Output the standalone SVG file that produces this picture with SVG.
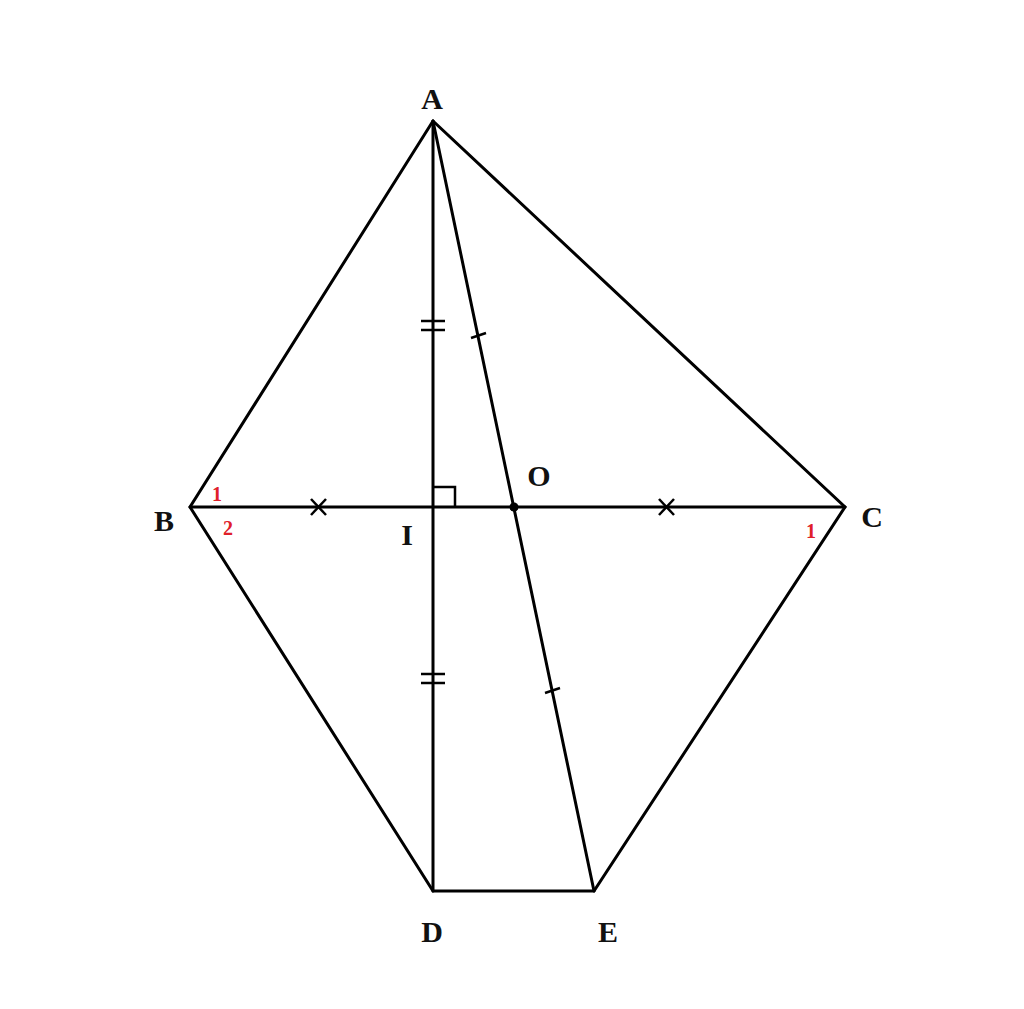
<svg xmlns="http://www.w3.org/2000/svg" width="1024" height="1009" viewBox="0 0 1024 1009">
<style>
.ln{stroke:#000;stroke-width:3;fill:none;stroke-linecap:round;stroke-linejoin:miter}
.tk{stroke:#000;stroke-width:2.5;fill:none}
.lb{font-family:"Liberation Serif",serif;font-weight:bold;font-size:30px;fill:#111;text-anchor:middle}
.rd{font-family:"Liberation Serif",serif;font-weight:bold;font-size:20px;fill:#e0202a;text-anchor:middle}
</style>
<rect width="1024" height="1009" fill="#fff"/>
<g id="connectors">
<polyline class="ln" points="433,121 190,507 433,891 594,891 845,507 433,121"/>
<line class="ln" x1="433" y1="121" x2="433" y2="891"/>
<line class="ln" x1="433" y1="121" x2="594" y2="891"/>
<line class="ln" x1="190" y1="507" x2="845" y2="507"/>
</g>
<g id="marks">
<polyline class="tk" points="433,487 455,487 455,507"/>
<line class="tk" x1="421" y1="321" x2="445" y2="321"/>
<line class="tk" x1="421" y1="330" x2="445" y2="330"/>
<line class="tk" x1="421" y1="674" x2="445" y2="674"/>
<line class="tk" x1="421" y1="683" x2="445" y2="683"/>
<line class="tk" x1="471" y1="338" x2="486" y2="333"/>
<line class="tk" x1="545" y1="693" x2="560" y2="688"/>
<line class="tk" x1="311" y1="499" x2="326" y2="515"/>
<line class="tk" x1="326" y1="499" x2="311" y2="515"/>
<line class="tk" x1="659" y1="499" x2="674" y2="515"/>
<line class="tk" x1="674" y1="499" x2="659" y2="515"/>
<circle cx="514" cy="507" r="4.5" fill="#000"/>
</g>
<g id="node-A"><text class="lb" x="432" y="109">A</text></g>
<g id="node-B"><text class="lb" x="164" y="531">B</text></g>
<g id="node-C"><text class="lb" x="872" y="527">C</text></g>
<g id="node-I"><text class="lb" x="407" y="545">I</text></g>
<g id="node-O"><text class="lb" x="539" y="486">O</text></g>
<g id="node-D"><text class="lb" x="432" y="942">D</text></g>
<g id="node-E"><text class="lb" x="608" y="942">E</text></g>
<g id="angles">
<text class="rd" x="217" y="501">1</text>
<text class="rd" x="228" y="535">2</text>
<text class="rd" x="811" y="538">1</text>
</g>
</svg>
